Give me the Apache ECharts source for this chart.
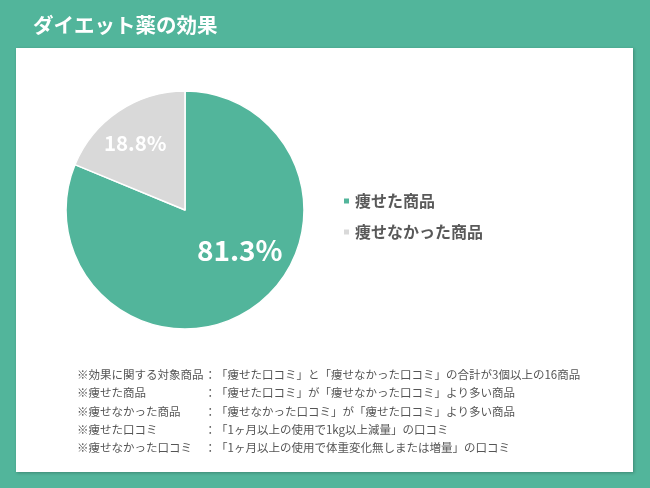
<!DOCTYPE html>
<html>
<head>
<meta charset="utf-8">
<script src="https://cdn.jsdelivr.net/npm/echarts@6/dist/echarts.min.js"></script>
<style>html,body{margin:0;padding:0;}#c{width:650px;height:488px;}</style>
</head>
<body>
<div id="c"></div>
<script>
var categories = ['痩せた商品', '痩せなかった商品'];
var values = [81.3, 18.8];
var noteLabels = ['※効果に関する対象商品', '※痩せた商品', '※痩せなかった商品', '※痩せた口コミ', '※痩せなかった口コミ'];
var noteTexts = [
  '「痩せた口コミ」と「痩せなかった口コミ」の合計が3個以上の16商品',
  '「痩せた口コミ」が「痩せなかった口コミ」より多い商品',
  '「痩せなかった口コミ」が「痩せた口コミ」より多い商品',
  '「1ヶ月以上の使用で1kg以上減量」の口コミ',
  '「1ヶ月以上の使用で体重変化無しまたは増量」の口コミ'
];
var FONT = '"Noto Sans CJK JP", sans-serif';
var GREEN = '#52b59b';
var GRAY = '#d9d9d9';
var chart = echarts.init(document.getElementById('c'));
var graphics = [{
  type: 'rect', z: 0,
  shape: {x: 16, y: 48, width: 617, height: 424},
  style: {fill: '#ffffff', shadowBlur: 3, shadowColor: 'rgba(0,0,0,0.25)', shadowOffsetX: 1, shadowOffsetY: 1}
}];
var lineY = [375, 393, 411.5, 430, 448];
for (var i = 0; i < noteLabels.length; i++) {
  graphics.push({type: 'text', z: 5, x: 77, y: lineY[i], style: {text: noteLabels[i], font: '11.5px ' + FONT, fill: '#555555', textVerticalAlign: 'middle'}});
  graphics.push({type: 'text', z: 5, x: 204.5, y: lineY[i], style: {text: '：', font: '11.5px ' + FONT, fill: '#555555', textVerticalAlign: 'middle'}});
  graphics.push({type: 'text', z: 5, x: 216, y: lineY[i], style: {text: noteTexts[i], font: '11.5px ' + FONT, fill: '#555555', textVerticalAlign: 'middle'}});
}
var offsets = [[20, -12], [-15, -15]];
var sizes = [28, 20.5];
var colors = [GREEN, GRAY];
chart.setOption({
  backgroundColor: GREEN,
  animation: false,
  title: {
    text: 'ダイエット薬の効果', left: 28, top: 10,
    textStyle: {color: '#ffffff', fontSize: 20.5, fontWeight: 'bold', fontFamily: FONT}
  },
  legend: {
    orient: 'vertical', left: 337, top: 188,
    icon: 'rect', itemWidth: 7, itemHeight: 7, itemGap: 15,
    data: categories,
    textStyle: {color: '#595959', fontSize: 16, fontWeight: 'bold', fontFamily: FONT}
  },
  graphic: graphics,
  series: [{
    type: 'pie', center: [185, 210], radius: [0, 119], startAngle: 90, clockwise: true,
    z: 3,
    itemStyle: {borderColor: '#ffffff', borderWidth: 1.5},
    label: {show: true, position: 'inside', color: '#ffffff', fontWeight: 'bold', fontFamily: FONT,
      formatter: function (p) { return p.value.toFixed(1) + '%'; }},
    labelLine: {show: false},
    emphasis: {disabled: true},
    data: categories.map(function (c, i) {
      return {name: c, value: values[i], itemStyle: {color: colors[i]}, label: {fontSize: sizes[i], offset: offsets[i]}};
    })
  }]
});
</script>
</body>
</html>
